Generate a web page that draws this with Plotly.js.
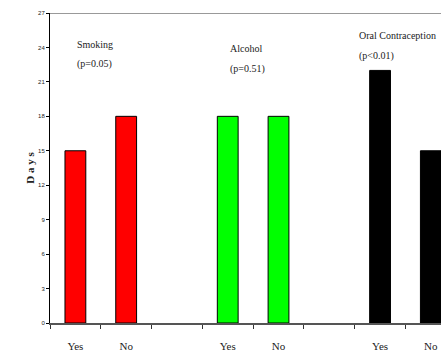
<!DOCTYPE html>
<html>
<head>
<meta charset="utf-8">
<script src="https://cdn.plot.ly/plotly-3.0.1.min.js"></script>
<style>html,body{margin:0;padding:0;background:#fff}#chart{width:444px;height:353px}</style>
</head>
<body>
<div id="chart"></div>
<script>
// Data
const slotKeys = ["Smoking|Yes","Smoking|No","gap1","Alcohol|Yes","Alcohol|No","gap2","Oral|Yes","Oral|No"];
const tickLabels = ["Yes","No","","Yes","No","","Yes","No"];
const days = [15, 18, null, 18, 18, null, 22, 15];
const barColors = ["#ff0000","#ff0000","#ffffff","#00ff00","#00ff00","#ffffff","#000000","#000000"];
const groupTitles = ["Smoking","Alcohol","Oral Contraception"];
const groupPvals = ["(p=0.05)","(p=0.51)","(p<0.01)"];
const groupAnchor = ["Smoking|Yes","Alcohol|Yes","Oral|Yes"];
const yTicks = [0,3,6,9,12,15,18,21,24,27];

const serif = "Liberation Serif, Times New Roman, serif";
const narrow = "Liberation Sans Narrow, Arial Narrow, sans-serif";

const trace = {
  type: "bar",
  x: slotKeys,
  y: days,
  width: 0.41,
  marker: {color: barColors, line: {color: "#000", width: 1}},
  hoverinfo: "x+y"
};

const titleY = [24.3, 23.9, 25.0];
const titleShift = [0, 0, -23];
const annotations = [];
groupTitles.forEach((t, i) => {
  annotations.push({
    x: groupAnchor[i], y: titleY[i], xref: "x", yref: "y",
    text: t, showarrow: false, xanchor: "left", yanchor: "middle", xshift: titleShift[i],
    font: {family: serif, size: 10, color: "#222"}
  });
  annotations.push({
    x: groupAnchor[i], y: titleY[i] - 1.75, xref: "x", yref: "y",
    text: groupPvals[i], showarrow: false, xanchor: "left", yanchor: "middle", xshift: titleShift[i],
    font: {family: serif, size: 10, color: "#222"}
  });
});

const layout = {
  width: 444, height: 353,
  margin: {l: 50, r: 3, t: 13, b: 30},
  paper_bgcolor: "#fff", plot_bgcolor: "#fff",
  showlegend: false,
  xaxis: {
    type: "category",
    range: [-0.5, 7.2],
    tickmode: "array", tickvals: slotKeys, ticktext: tickLabels,
    tickson: "boundaries",
    ticks: "outside", ticklen: 4, tickcolor: "#333", tickwidth: 1,
    ticklabelstandoff: 12,
    showline: true, linecolor: "#555", linewidth: 1.5,
    showgrid: false, zeroline: false,
    tickfont: {family: serif, size: 11, color: "#222"},
    fixedrange: true
  },
  yaxis: {
    range: [0, 27],
    tickmode: "array", tickvals: yTicks,
    ticks: "outside", ticklen: 3, tickcolor: "#000",
    showline: true, linecolor: "#000", linewidth: 1,
    showgrid: false, zeroline: false,
    tickfont: {family: narrow, size: 6, color: "#222"},
    title: {text: "<b>D a y s</b>", font: {family: serif, size: 11, color: "#222"}, standoff: 1},
    automargin: false,
    fixedrange: true
  },
  shapes: [{
    type: "line", xref: "paper", yref: "y", x0: 0, x1: 1, y0: 27, y1: 27,
    line: {color: "#999", width: 2}
  }],
  annotations: annotations
};

Plotly.newPlot("chart", [trace], layout, {displayModeBar: false, staticPlot: true});
</script>
</body>
</html>
